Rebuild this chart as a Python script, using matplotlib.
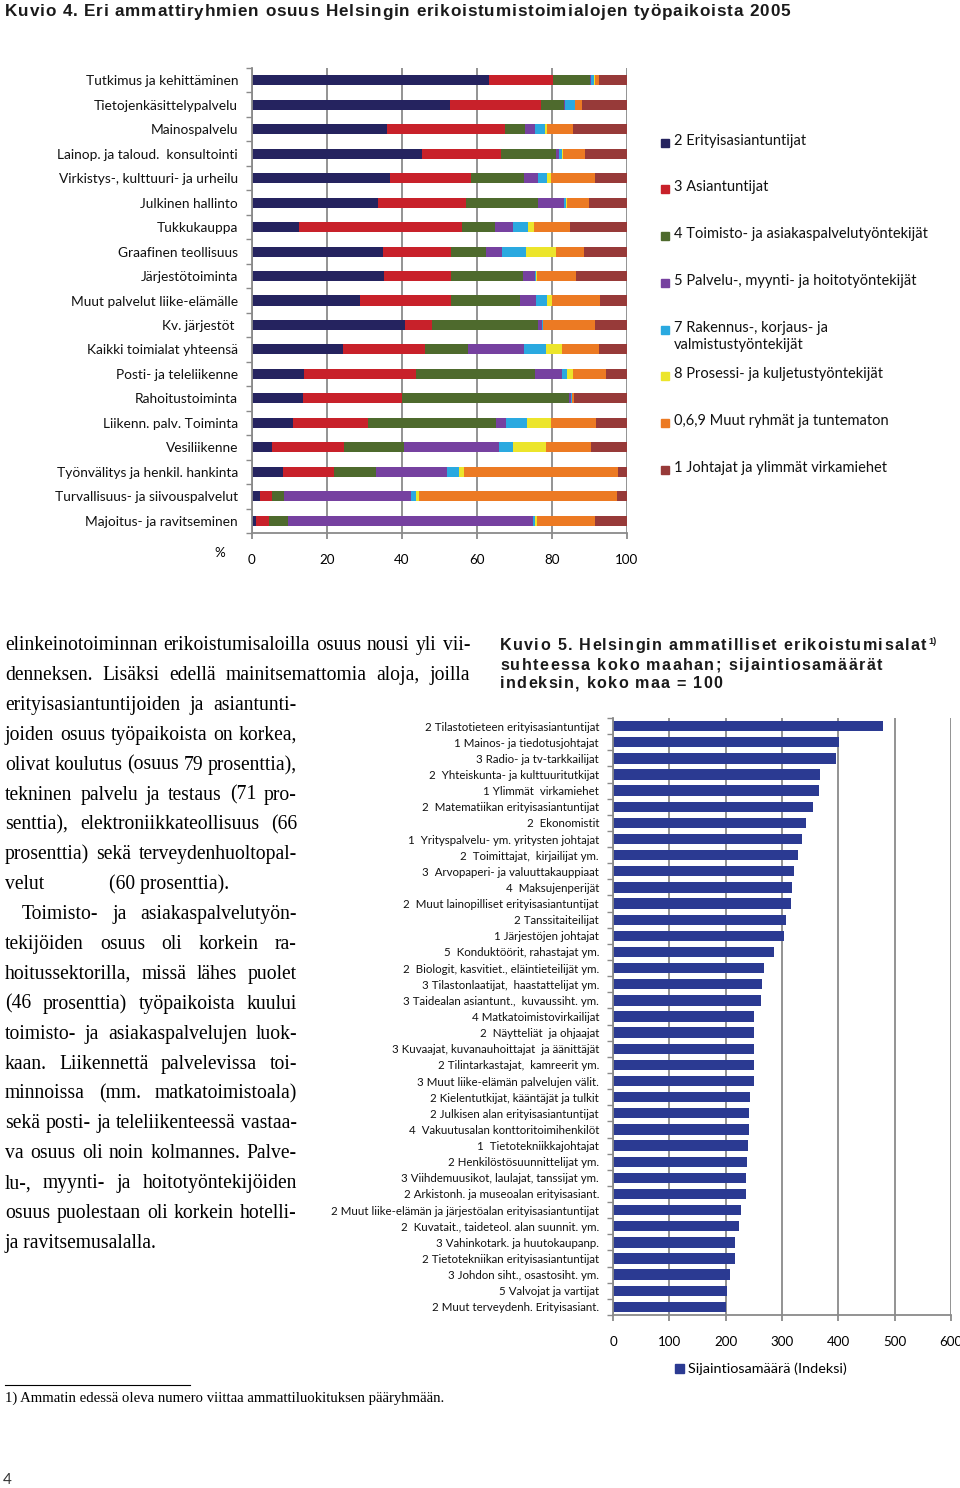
import matplotlib
matplotlib.use("Agg")
import matplotlib.pyplot as plt
from matplotlib.patches import Rectangle
from matplotlib.lines import Line2D
from matplotlib.ticker import FixedLocator

W, H = 960, 1488

# ---- Kuvio 4 data (% of jobs by occupational group) ----
industries = ["Tutkimus ja kehittäminen", "Tietojenkäsittelypalvelu", "Mainospalvelu",
              "Lainop. ja taloud.  konsultointi", "Virkistys-, kulttuuri- ja urheilu",
              "Julkinen hallinto", "Tukkukauppa", "Graafinen teollisuus", "Järjestötoiminta",
              "Muut palvelut liike-elämälle", "Kv. järjestöt ", "Kaikki toimialat yhteensä",
              "Posti- ja teleliikenne", "Rahoitustoiminta", "Liikenn. palv. Toiminta",
              "Vesiliikenne", "Työnvälitys ja henkil. hankinta",
              "Turvallisuus- ja siivouspalvelut", "Majoitus- ja ravitseminen"]

erityisasiantuntijat = [63.3, 52.9, 36.0, 45.2, 36.7, 33.7, 12.5, 35.0, 35.2, 28.8, 40.9, 24.3, 13.8, 13.7, 10.9, 5.4, 8.3, 2.0, 1.1]
asiantuntijat = [16.9, 24.2, 31.4, 21.1, 21.6, 23.4, 43.4, 18.0, 17.8, 24.2, 7.1, 21.7, 30.0, 26.2, 19.9, 19.2, 13.5, 3.4, 3.4]
toimisto = [9.8, 6.0, 5.3, 14.7, 14.1, 19.1, 9.0, 9.3, 19.2, 18.4, 28.2, 11.6, 31.6, 44.7, 34.3, 15.8, 11.2, 3.2, 5.0]
palvelu = [0.4, 0.4, 2.7, 0.9, 3.8, 6.9, 4.8, 4.4, 3.2, 4.3, 1.1, 15.0, 7.2, 0.5, 2.5, 25.5, 18.9, 33.8, 65.3]
rakennus = [0.7, 2.5, 2.8, 0.8, 2.5, 0.5, 4.0, 6.4, 0.3, 3.0, 0.2, 5.9, 1.4, 0.2, 5.7, 3.8, 3.3, 1.3, 0.7]
prosessi = [0.3, 0.2, 0.4, 0.3, 1.0, 0.4, 1.5, 8.0, 0.3, 1.4, 0.2, 4.1, 1.5, 0.1, 6.4, 8.6, 1.2, 0.7, 0.4]
muut = [1.0, 1.9, 6.9, 5.9, 11.8, 5.9, 9.5, 7.5, 10.4, 12.8, 13.8, 9.8, 8.9, 0.5, 12.1, 12.1, 41.1, 52.8, 15.6]
johtajat = [7.6, 11.9, 14.5, 11.1, 8.5, 10.1, 15.3, 11.4, 13.6, 7.1, 8.5, 7.6, 5.6, 14.1, 8.2, 9.6, 2.5, 2.8, 8.5]

group_labels = ["2 Erityisasiantuntijat", "3 Asiantuntijat",
                "4 Toimisto- ja asiakaspalvelutyöntekijät",
                "5 Palvelu-, myynti- ja hoitotyöntekijät",
                "7 Rakennus-, korjaus- ja\nvalmistustyöntekijät",
                "8 Prosessi- ja kuljetustyöntekijät",
                "0,6,9 Muut ryhmät ja tuntematon",
                "1 Johtajat ja ylimmät virkamiehet"]
group_colors = ["#25235f", "#c8212a", "#4e6a2d", "#7641a0",
                "#2aa9e0", "#ece52b", "#ec7a23", "#973a39"]

# ---- Kuvio 5 data (location quotient, whole country = 100) ----
occupations = ["2 Tilastotieteen erityisasiantuntijat", "1 Mainos- ja tiedotusjohtajat",
               "3 Radio- ja tv-tarkkailijat", "2  Yhteiskunta- ja kulttuuritutkijat",
               "1 Ylimmät  virkamiehet", "2  Matematiikan erityisasiantuntijat",
               "2  Ekonomistit", "1  Yrityspalvelu- ym. yritysten johtajat",
               "2  Toimittajat,  kirjailijat ym.", "3  Arvopaperi- ja valuuttakauppiaat",
               "4  Maksujenperijät", "2  Muut lainopilliset erityisasiantuntijat",
               "2 Tanssitaiteilijat", "1 Järjestöjen johtajat",
               "5  Konduktöörit, rahastajat ym.", "2  Biologit, kasvitiet., eläintieteilijät ym.",
               "3 Tilastonlaatijat,  haastattelijat ym.", "3 Taidealan asiantunt.,  kuvaussiht. ym.",
               "4 Matkatoimistovirkailijat", "2  Näytteliät  ja ohjaajat",
               "3 Kuvaajat, kuvanauhoittajat  ja äänittäjät", "2 Tilintarkastajat,  kamreerit ym.",
               "3 Muut liike-elämän palvelujen välit.", "2 Kielentutkijat, kääntäjät ja tulkit",
               "2 Julkisen alan erityisasiantuntijat", "4  Vakuutusalan konttoritoimihenkilöt",
               "1  Tietotekniikkajohtajat", "2 Henkilöstösuunnittelijat ym.",
               "3 Viihdemuusikot, laulajat, tanssijat ym.", "2 Arkistonh. ja museoalan erityisasiant.",
               "2 Muut liike-elämän ja järjestöalan erityisasiantuntijat",
               "2  Kuvatait., taideteol. alan suunnit. ym.", "3 Vahinkotark. ja huutokaupanp.",
               "2 Tietotekniikan erityisasiantuntijat", "3 Johdon siht., osastosiht. ym.",
               "5 Valvojat ja vartijat", "2 Muut terveydenh. Erityisasiant."]
index_values = [479, 401, 396, 367, 365, 355, 343, 336, 328, 321, 317, 316, 307, 303, 285, 268,
                265, 263, 251, 251, 250, 250, 250, 244, 241, 241, 240, 238, 236, 236, 228, 224,
                216, 216, 207, 203, 201]

body_lines = [
    "elinkeinotoiminnan erikoistumisaloilla osuus nousi yli vii-",
    "denneksen. Lisäksi edellä mainitsemattomia aloja, joilla",
    "erityisasiantuntijoiden ja asiantunti-",
    "joiden osuus työpaikoista on korkea,",
    "olivat koulutus (osuus 79 prosenttia),",
    "tekninen palvelu ja testaus (71 pro-",
    "senttia), elektroniikkateollisuus (66",
    "prosenttia) sekä terveydenhuoltopal-",
    "velut",
    "Toimisto- ja asiakaspalvelutyön-",
    "tekijöiden osuus oli korkein ra-",
    "hoitussektorilla, missä lähes puolet",
    "(46 prosenttia) työpaikoista kuului",
    "toimisto- ja asiakaspalvelujen luok-",
    "kaan. Liikennettä palvelevissa toi-",
    "minnoissa (mm. matkatoimistoala)",
    "sekä posti- ja teleliikenteessä vastaa-",
    "va osuus oli noin kolmannes. Palve-",
    "lu-, myynti- ja hoitotyöntekijöiden",
    "osuus puolestaan oli korkein hotelli-",
    "ja ravitsemusalalla.",
]

GRID = "#8a8a8a"
SANS = ["Lato", "DejaVu Sans"]
ARIAL = ["Liberation Sans", "DejaVu Sans"]
SERIF = ["Liberation Serif", "DejaVu Serif"]

fig = plt.figure(figsize=(W / 100, H / 100), dpi=100)
renderer = fig.canvas.get_renderer()


def px_axes(left, top, right, bottom):
    return fig.add_axes([left / W, 1 - bottom / H, (right - left) / W, (bottom - top) / H])


def tx(x, y, s, **kw):
    return fig.text(x / W, 1 - y / H, s, **kw)


def spaced(x, y, s, right, **kw):
    # letter-spaced title text stretched to end at `right`
    objs = [tx(0, y, c, **kw) for c in s]
    widths = [o.get_window_extent(renderer).width if c != " " else 0 for o, c in zip(objs, s)]
    probe = tx(0, y, "a a", **kw)
    probe2 = tx(0, y, "aa", **kw)
    space_w = probe.get_window_extent(renderer).width - probe2.get_window_extent(renderer).width
    probe.remove()
    probe2.remove()
    widths = [space_w if c == " " else w for w, c in zip(widths, s)]
    extra = (right - x - sum(widths)) / max(len(s) - 1, 1)
    xx = x
    for o, w in zip(objs, widths):
        o.set_x(xx / W)
        xx += w + extra


def style_axes(ax, n, xmax, step):
    ax.set_xlim(0, xmax)
    ax.set_ylim(n - 0.5, -0.5)
    ax.set_xticks(range(0, xmax + 1, step))
    ax.xaxis.grid(True, color=GRID, linewidth=1.3)
    ax.set_axisbelow(True)
    for side in ["top", "right"]:
        ax.spines[side].set_visible(False)
    for side in ["left", "bottom"]:
        ax.spines[side].set_color(GRID)
        ax.spines[side].set_linewidth(1.3)
    ax.yaxis.set_minor_locator(FixedLocator([i - 0.5 for i in range(n + 1)]))
    ax.tick_params(axis="y", which="major", length=0)
    ax.tick_params(axis="y", which="minor", length=4, color=GRID, width=1)
    ax.tick_params(axis="x", which="major", length=4, color=GRID, width=1.3)


# ---- Kuvio 4 ----
ax1 = px_axes(252, 68, 627, 533)
series = [erityisasiantuntijat, asiantuntijat, toimisto, palvelu, rakennus, prosessi, muut, johtajat]
ypos = list(range(len(industries)))
left = [0.0] * len(industries)
for vals, col in zip(series, group_colors):
    ax1.barh(ypos, vals, left=left, height=0.41, color=col, linewidth=0)
    left = [a + b for a, b in zip(left, vals)]
style_axes(ax1, len(industries), 100, 20)
ax1.set_yticks(ypos)
ax1.set_yticklabels(industries, fontsize=9.9, family=SANS, color="#111111")
ax1.tick_params(axis="y", which="major", pad=10)
ax1.tick_params(axis="x", labelsize=9.6, pad=11)
for lab in ax1.get_xticklabels():
    lab.set_family(SANS)
tx(220, 553, "%", fontsize=9.6, family=SANS, ha="center", va="center")

# legend for Kuvio 4
leg_y = [143, 189, 236, 283, 330, 376, 423, 470]
for yy, lab, col in zip(leg_y, group_labels, group_colors):
    fig.patches.append(Rectangle((661 / W, 1 - (yy + 4) / H), 8 / W, 8 / H,
                                 transform=fig.transFigure, color=col, figure=fig))
    tx(674, yy - 9, lab, fontsize=10.5, family=SANS, ha="left", va="top",
       linespacing=1.3, color="#111111")

spaced(5, 12, "Kuvio 4. Eri ammattiryhmien osuus Helsingin erikoistumistoimialojen työpaikoista 2005",
       790, fontsize=12.3, family=ARIAL, weight="bold", ha="left", va="center", color="#1a1a1a")

# ---- Kuvio 5 ----
ax2 = px_axes(613, 718, 951, 1315)
ypos2 = list(range(len(occupations)))
ax2.barh(ypos2, index_values, height=0.64, color="#2b3a92", linewidth=0)
style_axes(ax2, len(occupations), 600, 100)
ax2.set_yticks(ypos2)
ax2.set_yticklabels(occupations, fontsize=8.3, family=SANS, color="#111111")
ax2.tick_params(axis="y", which="major", pad=10)
ax2.tick_params(axis="x", labelsize=9.6, pad=11)
for lab in ax2.get_xticklabels():
    lab.set_family(SANS)

fig.patches.append(Rectangle((675 / W, 1 - 1373 / H), 9 / W, 9 / H,
                             transform=fig.transFigure, color="#2b3a92", figure=fig))
tx(688, 1369, "Sijaintiosamäärä (Indeksi)", fontsize=10.4, family=SANS, ha="left", va="center")

T5 = dict(fontsize=11.6, family=ARIAL, weight="bold", ha="left", va="center", color="#1a1a1a")
spaced(500, 646, "Kuvio 5. Helsingin ammatilliset erikoistumisalat", 926, **T5)
tx(928, 641, "1)", fontsize=6.5, family=ARIAL, weight="bold", ha="left", va="center", color="#1a1a1a")
spaced(500, 665, "suhteessa koko maahan; sijaintiosamäärät", 882, **T5)
spaced(500, 684, "indeksin, koko maa = 100", 722, **T5)

# ---- body text (justified) ----
BODY_FS = 14.1
for i, line in enumerate(body_lines):
    yb = 650 + 29.9 * i
    x0 = 22 if i == 9 else 5
    right = 470 if i < 2 else 297
    words = line.split()
    if i == 8:
        tx(5, yb, "velut", fontsize=BODY_FS, family=SERIF, va="baseline")
        tx(109, yb, "(60 prosenttia).", fontsize=BODY_FS, family=SERIF, va="baseline")
        continue
    if i == len(body_lines) - 1:
        tx(x0, yb, line, fontsize=BODY_FS, family=SERIF, va="baseline")
        continue
    objs = [tx(0, yb, w, fontsize=BODY_FS, family=SERIF, va="baseline") for w in words]
    widths = [o.get_window_extent(renderer).width for o in objs]
    gap = (right - x0 - sum(widths)) / max(len(words) - 1, 1)
    x = x0
    for o, wd in zip(objs, widths):
        o.set_x(x / W)
        x += wd + gap

# footnote and page number
fig.lines.append(Line2D([5 / W, 190 / W], [1 - 1385 / H, 1 - 1385 / H], transform=fig.transFigure,
                        color="black", linewidth=0.8))
tx(5, 1398, "1) Ammatin edessä oleva numero viittaa ammattiluokituksen pääryhmään.",
   fontsize=10.6, family=SERIF, ha="left", va="center")
tx(3, 1480, "4", fontsize=11, family=SANS, ha="left", va="center", color="#333333")

fig.savefig("out.png", dpi=100)
